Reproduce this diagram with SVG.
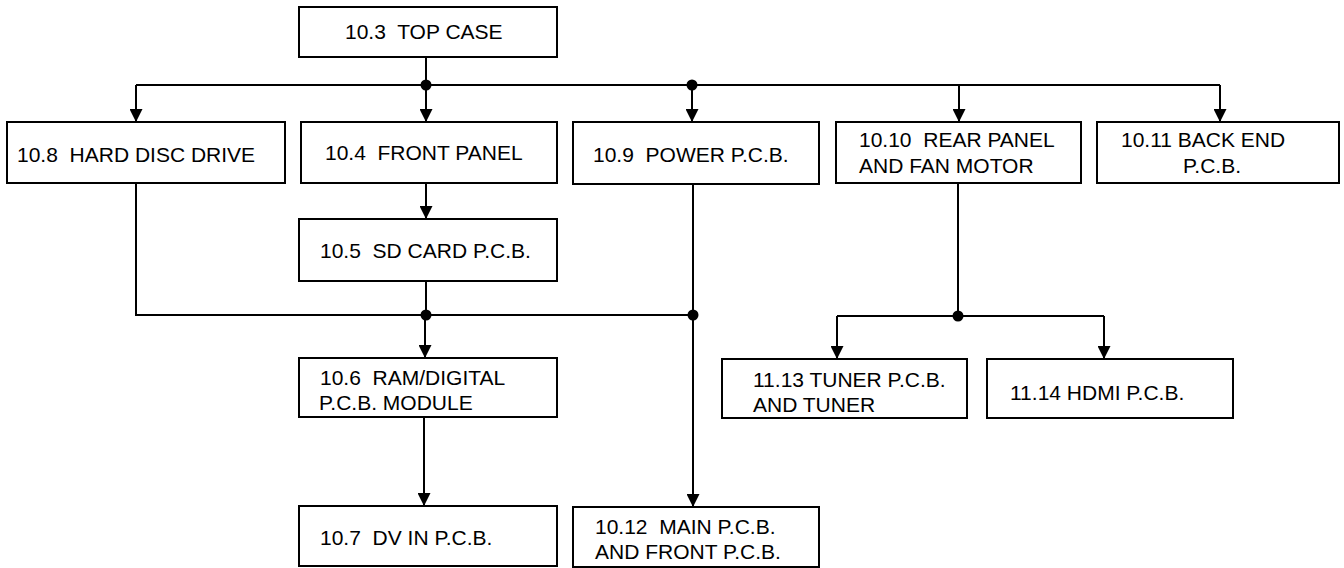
<svg xmlns="http://www.w3.org/2000/svg" width="1344" height="568" viewBox="0 0 1344 568">
<style>
rect.box{fill:#fff;stroke:#000;stroke-width:2}
text{font-family:"Liberation Sans",Arial,sans-serif;font-size:21px;fill:#000;white-space:pre}
.c line,.c polyline{stroke:#000;stroke-width:2;fill:none}
.dot{fill:#000}
</style>
<defs>
<marker id="arr" viewBox="0 0 13 13" refX="13" refY="6.5" markerWidth="13" markerHeight="13" orient="auto" markerUnits="userSpaceOnUse">
<path d="M0,0 L13,6.5 L0,13 Z" fill="#000"/>
</marker>
</defs>
<rect width="1344" height="568" fill="#fff"/>
<g class="c" id="connectors">
<line x1="426" y1="57" x2="426" y2="85"/>
<line x1="136" y1="85" x2="1220" y2="85"/>
<line x1="136" y1="85" x2="136" y2="122" marker-end="url(#arr)"/>
<line x1="426" y1="85" x2="426" y2="122" marker-end="url(#arr)"/>
<line x1="692" y1="85" x2="692" y2="122" marker-end="url(#arr)"/>
<line x1="959" y1="85" x2="959" y2="122" marker-end="url(#arr)"/>
<line x1="1220" y1="85" x2="1220" y2="122" marker-end="url(#arr)"/>
<line x1="426" y1="183" x2="426" y2="219" marker-end="url(#arr)"/>
<polyline points="136,183 136,315 693,315"/>
<line x1="426" y1="281" x2="426" y2="315"/>
<line x1="425" y1="315" x2="425" y2="358" marker-end="url(#arr)"/>
<line x1="424" y1="417" x2="424" y2="506" marker-end="url(#arr)"/>
<line x1="693" y1="184" x2="693" y2="507" marker-end="url(#arr)"/>
<line x1="958" y1="183" x2="958" y2="316"/>
<line x1="837" y1="316" x2="1104" y2="316"/>
<line x1="837" y1="316" x2="837" y2="359" marker-end="url(#arr)"/>
<line x1="1104" y1="316" x2="1104" y2="359" marker-end="url(#arr)"/>
<circle class="dot" cx="426" cy="85" r="5.5"/>
<circle class="dot" cx="692" cy="85" r="5.5"/>
<circle class="dot" cx="426" cy="315" r="5.5"/>
<circle class="dot" cx="693" cy="315" r="5.5"/>
<circle class="dot" cx="958" cy="316" r="5.5"/>
</g>
<g id="top-case"><rect class="box" x="299" y="7" width="258" height="50"/><text x="345" y="39">10.3  TOP CASE</text></g>
<g id="hdd"><rect class="box" x="7" y="122" width="278" height="61"/><text x="17" y="162">10.8  HARD DISC DRIVE</text></g>
<g id="front-panel"><rect class="box" x="301" y="122" width="256" height="61"/><text x="325" y="160">10.4  FRONT PANEL</text></g>
<g id="power"><rect class="box" x="573" y="122" width="246" height="62"/><text x="593" y="162">10.9  POWER P.C.B.</text></g>
<g id="rear-panel"><rect class="box" x="836" y="122" width="245" height="61"/><text x="859" y="147">10.10  REAR PANEL</text><text x="859" y="173">AND FAN MOTOR</text></g>
<g id="back-end"><rect class="box" x="1097" y="122" width="242" height="61"/><text x="1121" y="147">10.11 BACK END</text><text x="1183" y="173">P.C.B.</text></g>
<g id="sd-card"><rect class="box" x="299" y="219" width="258" height="62"/><text x="320" y="258">10.5  SD CARD P.C.B.</text></g>
<g id="ram"><rect class="box" x="299" y="358" width="258" height="59"/><text x="320" y="385">10.6  RAM/DIGITAL</text><text x="319" y="410">P.C.B. MODULE</text></g>
<g id="dv-in"><rect class="box" x="299" y="506" width="258" height="60"/><text x="320" y="545">10.7  DV IN P.C.B.</text></g>
<g id="main"><rect class="box" x="573" y="507" width="246" height="60"/><text x="595" y="534">10.12  MAIN P.C.B.</text><text x="595" y="559">AND FRONT P.C.B.</text></g>
<g id="tuner"><rect class="box" x="722" y="359" width="245" height="59"/><text x="753" y="387">11.13 TUNER P.C.B.</text><text x="753" y="412">AND TUNER</text></g>
<g id="hdmi"><rect class="box" x="987" y="359" width="246" height="59"/><text x="1010" y="400">11.14 HDMI P.C.B.</text></g>
</svg>
